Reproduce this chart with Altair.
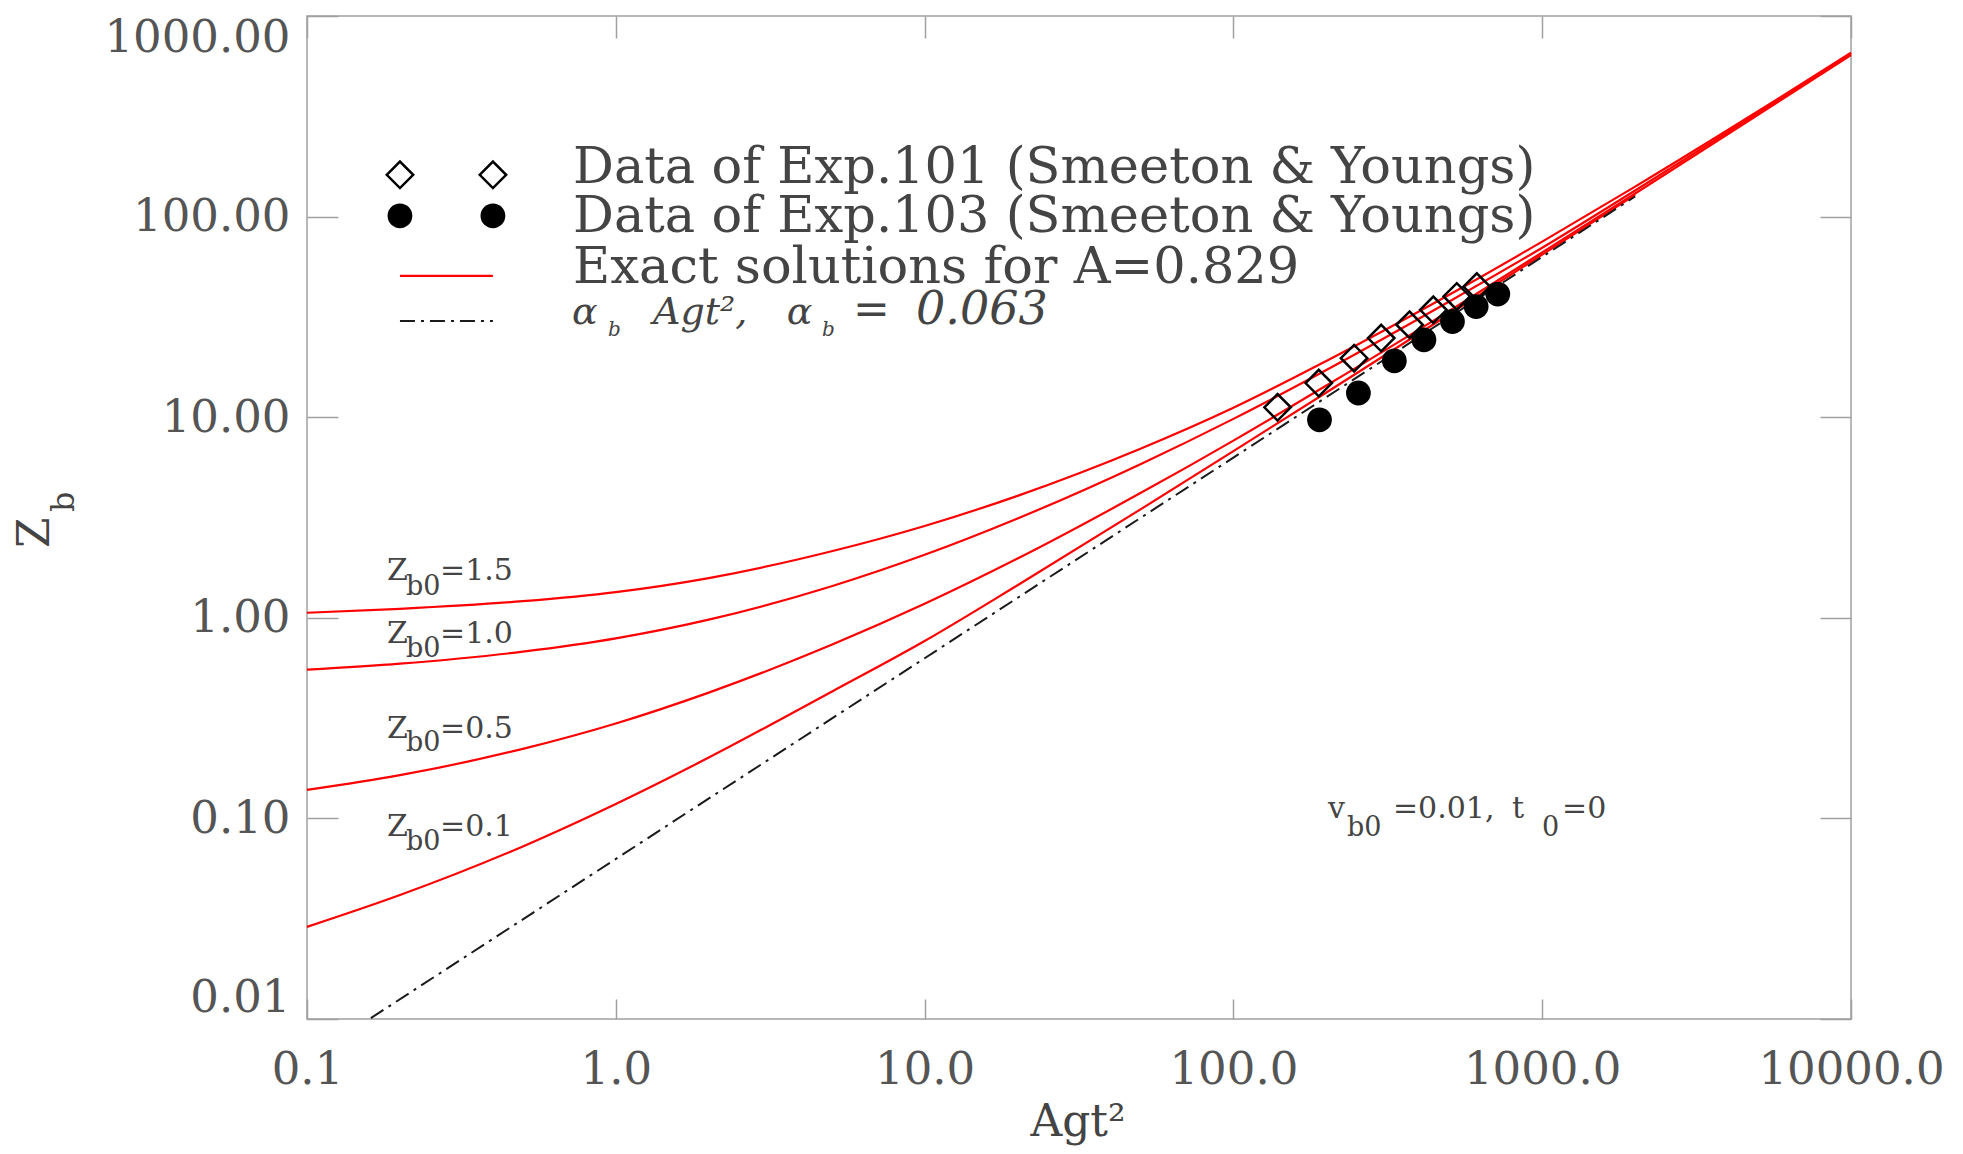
import altair as alt
import pandas as pd

# ---------------- data ----------------
x_grid = [0.1, 0.2, 0.5, 1, 2, 5, 10, 20, 50, 100, 200, 500, 1000, 2000, 5000, 10000]
zb_15 = [1.06, 1.109, 1.21, 1.343, 1.578, 2.146, 2.869, 4.054, 6.96, 11.14, 19.06, 40.76, 75.0, 141.1, 335, 656]
zb_10 = [0.551, 0.5905, 0.6776, 0.7895, 0.9785, 1.437, 2.061, 3.127, 5.831, 9.81, 17.19, 37.73, 69.96, 135, 328, 647.6]
zb_05 = [0.1386, 0.1642, 0.2222, 0.2973, 0.4237, 0.7338, 1.174, 1.973, 4.185, 7.646, 14.38, 33.9, 66.3, 130.4, 321.6, 638.7]
zb_01 = [0.0288, 0.0415, 0.0725, 0.118, 0.201, 0.428, 0.766, 1.453, 3.47, 6.77, 13.28, 32.6, 64.6, 128.3]

fit_x = [0.161, 2000]
fit_z = [0.0101, 126]

exp101_x = [139, 189, 246, 301, 372, 444, 529, 614]
exp101_z = [11.2, 14.8, 19.7, 24.8, 28.9, 34.3, 40.0, 44.8]
exp103_x = [190, 254, 332, 414, 512, 611, 718]
exp103_z = [9.7, 13.2, 19.1, 24.3, 30.0, 35.6, 41.1]

x_ticks = [0.1, 1, 10, 100, 1000, 10000]
y_ticks = [0.01, 0.1, 1, 10, 100, 1000]

legend_sym_x = [0.2, 0.4]
legend_rows_y = [161.6, 100.9, 50.7, 30.2]
legend_texts = ["Data of Exp.101 (Smeeton & Youngs)",
                "Data of Exp.103 (Smeeton & Youngs)",
                "Exact solutions for A=0.829"]
legend_text_x = 0.727
legend_text_y = [147.4, 84.0, 46.8]

curve_names = ["1.5", "1.0", "0.5", "0.1"]
label_base_y = [1.546, 0.750, 0.252, 0.0813]
label_sub_y = [1.302, 0.641, 0.2156, 0.0697]

# ---------------- tables ----------------
rows = []
for name, vals in zip(curve_names, [zb_15, zb_10, zb_05, zb_01]):
    for xv, zv in zip(x_grid, vals):
        rows.append({"x": xv, "z": zv, "curve": name})
curves = pd.DataFrame(rows)
fit = pd.DataFrame({"x": fit_x, "z": fit_z})
exp101 = pd.DataFrame({"x": exp101_x, "z": exp101_z})
exp103 = pd.DataFrame({"x": exp103_x, "z": exp103_z})

leg_dia = pd.DataFrame({"x": legend_sym_x, "z": [legend_rows_y[0]] * 2})
leg_cir = pd.DataFrame({"x": legend_sym_x, "z": [legend_rows_y[1]] * 2})
leg_red = pd.DataFrame({"x": [legend_sym_x[0]], "x2": [legend_sym_x[1]], "z": [legend_rows_y[2]]})
leg_dd = pd.DataFrame({"x": [legend_sym_x[0]], "x2": [legend_sym_x[1]], "z": [legend_rows_y[3]]})

xs = alt.Scale(type="log", domain=[0.1, 10000], nice=False)
ys = alt.Scale(type="log", domain=[0.01, 1000], nice=False)

GRAY = "#a0a0a0"
TXT = "#444444"
LAB = "#555555"
SERIF = "DejaVu Serif"

ax_bottom = alt.Axis(orient="bottom", values=x_ticks, format=".1f", offset=-20, tickSize=20,
                     domain=False, grid=False, labelFont=SERIF, labelFontSize=45,
                     labelColor=LAB, labelPadding=28, labelFlush=False, labelOverlap=False,
                     labelLimit=400, tickColor=GRAY, tickWidth=1.5, title="")
ax_left = alt.Axis(orient="left", values=y_ticks, format=".2f", offset=-31, tickSize=31,
                   domain=False, grid=False, labelFont=SERIF, labelFontSize=45,
                   labelColor=LAB, labelPadding=17, labelFlush=True, labelFlushOffset=1,
                   labelOverlap=False, labelLimit=400,
                   tickColor=GRAY, tickWidth=1.5, title="")
ax_top = alt.Axis(orient="top", values=x_ticks, offset=-22, tickSize=22, labels=False,
                  domain=False, grid=False, tickColor=GRAY, tickWidth=1.5, title="")
ax_right = alt.Axis(orient="right", values=y_ticks, offset=-31, tickSize=31, labels=False,
                    domain=False, grid=False, tickColor=GRAY, tickWidth=1.5, title="")


def X(axis=None, field="x"):
    return alt.X(f"{field}:Q", scale=xs, axis=axis)


def Y(axis=None, field="z"):
    return alt.Y(f"{field}:Q", scale=ys, axis=axis)


red_lines = alt.Chart(curves).mark_line(color="#ff0000", strokeWidth=2.2, interpolate="monotone").encode(
    x=X(ax_bottom), y=Y(ax_left), detail="curve:N")

fit_line = alt.Chart(fit).mark_line(color="#1a1a1a", strokeWidth=2, strokeDash=[15, 6, 3, 6]).encode(
    x=X(ax_top), y=Y(ax_right))

dia = alt.Chart(exp101).mark_point(shape="diamond", filled=False, size=700, strokeWidth=2.5,
                                   color="black", opacity=1).encode(x=X(), y=Y())
cir = alt.Chart(exp103).mark_circle(size=615, color="black", opacity=1).encode(x=X(), y=Y())

l_dia = alt.Chart(leg_dia).mark_point(shape="diamond", filled=False, size=700, strokeWidth=2.5,
                                      color="black", opacity=1).encode(x=X(), y=Y())
l_cir = alt.Chart(leg_cir).mark_circle(size=615, color="black", opacity=1).encode(x=X(), y=Y())
l_red = alt.Chart(leg_red).mark_rule(color="#ff0000", strokeWidth=2.2).encode(
    x=X(), x2="x2:Q", y=Y())
l_dd = alt.Chart(leg_dd).mark_rule(color="#1a1a1a", strokeWidth=2, strokeDash=[15, 6, 3, 6]).encode(
    x=X(), x2="x2:Q", y=Y())


def texts(xv, yv, tv, **props):
    df = pd.DataFrame({"x": xv, "z": yv, "t": tv})
    base = dict(align="left", baseline="alphabetic", color=TXT, font=SERIF)
    base.update(props)
    return alt.Chart(df).mark_text(**base).encode(x=X(), y=Y(), text="t:N")


t_legend = texts([legend_text_x] * 3, legend_text_y, legend_texts, fontSize=51)
t_alpha = texts([0.722, 3.58], [29.2, 29.2], ["α", "α"], fontStyle="italic", fontSize=38)
t_alpha_sub = texts([0.944, 4.65], [25.5, 25.5], ["b", "b"], fontStyle="italic", fontSize=20)
t_agt = texts([1.32], [29.2], ["Agt²,"], fontStyle="italic", fontSize=38)
t_eqsign = texts([5.86], [29.2], ["="], fontSize=44)
t_val = texts([9.38], [29.2], ["0.063"], fontStyle="italic", fontSize=46)

t_Z = texts([0.1816] * 4, label_base_y, ["Z"] * 4, fontSize=30)
t_sub = texts([0.2092] * 4 + [233.3, 998.6], label_sub_y + [0.0813, 0.0813],
              ["b0"] * 4 + ["b0", "0"], fontSize=27)
t_eq = texts([0.2696] * 4 + [202.4, 328.7, 798.5, 1159],
             label_base_y + [0.1007] * 4,
             ["=" + n for n in curve_names] + ["v", "=0.01,", "t", "=0"], fontSize=30)

t_xtitle = texts([31.4], [0.00262], ["Agt²"], fontSize=44, align="center")
t_ytitle_Z = texts([0.01326], [2.653], ["Z"], fontSize=44, align="center", baseline="middle", angle=270)
t_ytitle_b = texts([0.01633], [3.79], ["b"], fontSize=32, align="center", baseline="middle", angle=270)

chart = alt.layer(
    red_lines, fit_line, dia, cir, l_dia, l_cir, l_red, l_dd,
    t_legend, t_alpha, t_alpha_sub, t_agt, t_eqsign, t_val, t_Z, t_sub, t_eq,
    t_xtitle, t_ytitle_Z, t_ytitle_b,
).resolve_axis(x="independent", y="independent").properties(
    width=1544, height=1003,
    autosize=alt.AutoSizeParams(type="none"),
    padding={"left": 299, "top": 8, "right": 104, "bottom": 127},
    background="white",
).configure_view(stroke=GRAY, strokeWidth=1.5)

chart.save("out.html", embed_options={"renderer": "svg", "actions": False})
